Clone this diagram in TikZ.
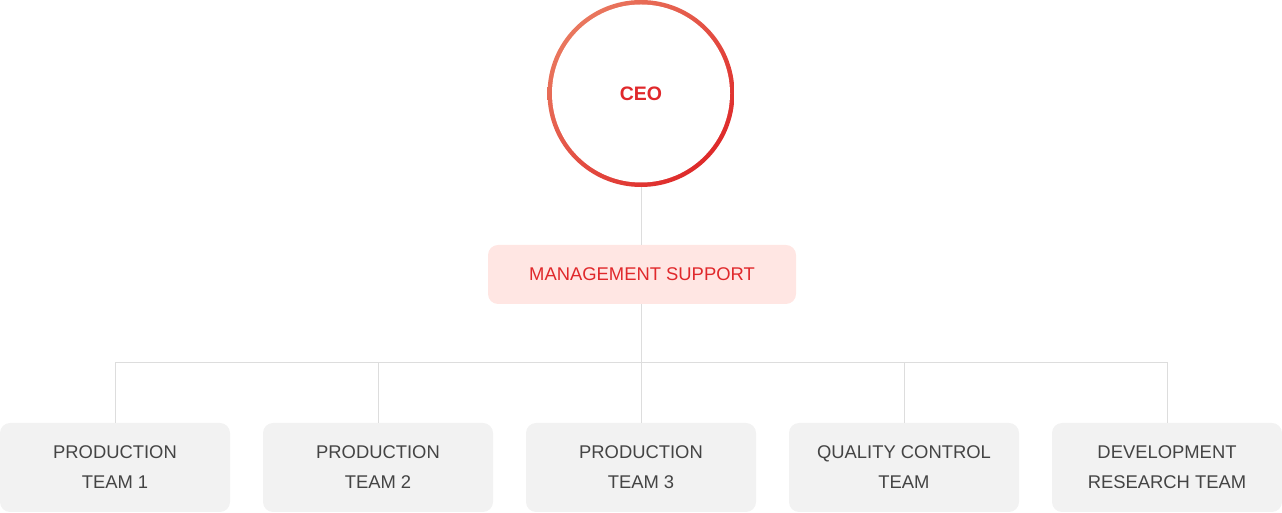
\documentclass[tikz,border=0pt]{standalone}
\usepackage{fontspec}
\setmainfont{Liberation Sans}
\definecolor{ceored}{HTML}{E0282B}
\definecolor{ringA}{HTML}{E9775E}
\definecolor{ringB}{HTML}{DE2A2A}
\definecolor{pinkfill}{HTML}{FFE6E3}
\definecolor{greyfill}{HTML}{F2F2F2}
\definecolor{linegrey}{HTML}{DDDDDD}
\definecolor{teamtext}{HTML}{444444}
\begin{document}
\begin{tikzpicture}[x=1pt,y=1pt,
  conn/.style={draw=linegrey,line width=1pt},
  teambox/.style={rectangle,rounded corners=10pt,fill=greyfill,minimum width=230pt,minimum height=89pt,inner sep=0pt,align=center,text=teamtext,font=\fontsize{18.4}{30}\selectfont},
  mgmtbox/.style={rectangle,rounded corners=10pt,fill=pinkfill,minimum width=308pt,minimum height=59pt,inner sep=0pt,text=ceored,font=\fontsize{18.4}{22}\selectfont},
  ceocircle/.style={circle,minimum size=187pt,inner sep=0pt,text=ceored,font=\fontsize{19.5}{22}\selectfont\bfseries,
    path picture={\shade[left color=ringA,right color=ringB,shading angle=45] (path picture bounding box.south west) rectangle (path picture bounding box.north east);
      \fill[white] (path picture bounding box.center) circle (89pt);}}
]
\useasboundingbox (0,0) rectangle (1282,513);
\node[ceocircle] (ceo) at (641,419.5) {\raisebox{-1pt}{CEO}};
\node[mgmtbox] (mgmt) at (642,238.5) {\raisebox{-1pt}{MANAGEMENT SUPPORT}};
\coordinate (bus) at (641,150);
\begin{scope}[every node/.append style={yshift=0pt}]
\node[teambox] (b1) at (115,45.5) {\raisebox{-1pt}{PRODUCTION}\\\raisebox{-1pt}{TEAM 1}};
\node[teambox] (b2) at (378,45.5) {\raisebox{-1pt}{PRODUCTION}\\\raisebox{-1pt}{TEAM 2}};
\node[teambox] (b3) at (641,45.5) {\raisebox{-1pt}{PRODUCTION}\\\raisebox{-1pt}{TEAM 3}};
\node[teambox] (b4) at (904,45.5) {\raisebox{-1pt}{QUALITY CONTROL}\\\raisebox{-1pt}{TEAM}};
\node[teambox] (b5) at (1167,45.5) {\raisebox{-1pt}{DEVELOPMENT}\\\raisebox{-1pt}{RESEARCH TEAM}};
\end{scope}
\draw[conn] (ceo.south) -- (ceo.south |- mgmt.north);
\draw[conn] (mgmt.south -| bus) -- (bus);
\draw[conn] (b1.north) |- (b5.north |- bus) -- (b5.north);
\draw[conn] (b2.north) -- (b2.north |- bus);
\draw[conn] (b3.north) -- (b3.north |- bus);
\draw[conn] (b4.north) -- (b4.north |- bus);
\end{tikzpicture}
\end{document}
